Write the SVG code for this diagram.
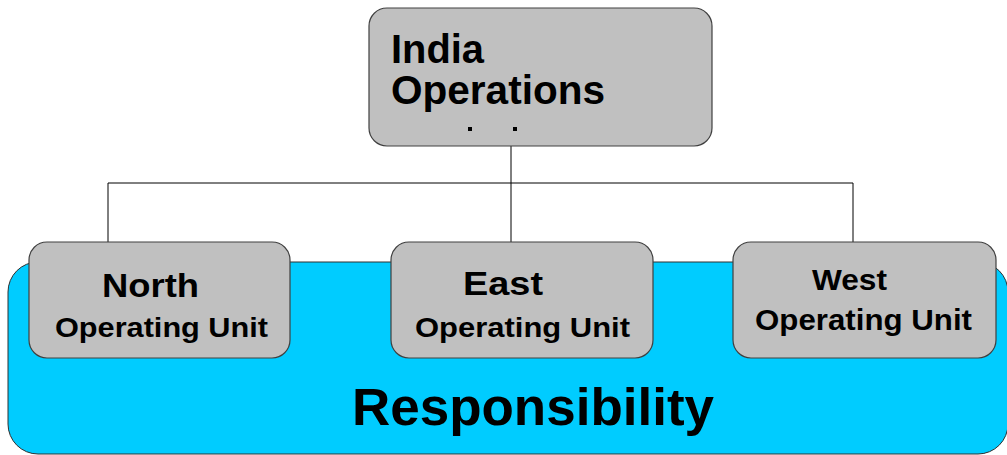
<svg xmlns="http://www.w3.org/2000/svg" width="1007" height="455" viewBox="0 0 1007 455">
<style>
.box{fill:#c0c0c0;stroke:#404040;stroke-width:1.2}
.t{font-family:"Liberation Sans",Arial,sans-serif;font-weight:bold;fill:#000}
.c{fill:none;stroke:#000;stroke-width:1}
</style>
<rect width="1007" height="455" fill="#fff"/>
<g id="responsibility">
<rect x="8" y="262" width="1000" height="192" rx="30" fill="#00ccff" stroke="#303030" stroke-width="1"/>
<text class="t" x="352" y="425" font-size="51" textLength="362" lengthAdjust="spacingAndGlyphs">Responsibility</text>
</g>
<g id="connectors">
<path class="c" d="M511 146V183M108 183H853M108 183V242M511 183V242M853 183V242"/>
</g>
<g id="india">
<rect class="box" x="369" y="8" width="343" height="138" rx="18"/>
<text class="t" x="391" y="63" font-size="40" textLength="93" lengthAdjust="spacingAndGlyphs">India</text>
<text class="t" x="391" y="104" font-size="40" textLength="214" lengthAdjust="spacingAndGlyphs">Operations</text>
<rect x="468" y="127" width="4" height="4" fill="#000"/>
<rect x="513" y="127" width="4" height="4" fill="#000"/>
</g>
<g id="north">
<rect class="box" x="29" y="242" width="261" height="116" rx="18"/>
<text class="t" x="102" y="297" font-size="34" textLength="97" lengthAdjust="spacingAndGlyphs">North</text>
<text class="t" x="55" y="337" font-size="28" textLength="213" lengthAdjust="spacingAndGlyphs">Operating Unit</text>
</g>
<g id="east">
<rect class="box" x="391" y="242" width="262" height="116" rx="18"/>
<text class="t" x="463" y="295" font-size="34" textLength="80" lengthAdjust="spacingAndGlyphs">East</text>
<text class="t" x="415" y="337" font-size="28" textLength="215" lengthAdjust="spacingAndGlyphs">Operating Unit</text>
</g>
<g id="west">
<rect class="box" x="733" y="242" width="263" height="116" rx="18"/>
<text class="t" x="812" y="290" font-size="30" textLength="75" lengthAdjust="spacingAndGlyphs">West</text>
<text class="t" x="755" y="330" font-size="29" textLength="217" lengthAdjust="spacingAndGlyphs">Operating Unit</text>
</g>
</svg>
